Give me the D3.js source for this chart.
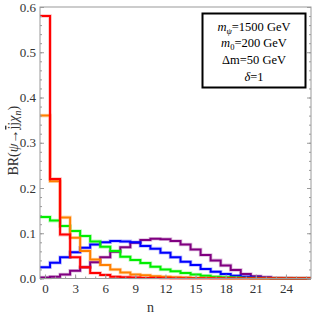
<!DOCTYPE html>
<html>
<head>
<meta charset="utf-8">
<script src="https://cdn.jsdelivr.net/npm/d3@7"></script>
<style>
  body { margin: 0; background: #fff; }
  svg { display: block; font-family: "Liberation Serif", "DejaVu Serif", serif; }
</style>
</head>
<body>
<div class="canvas"></div>
<script>
// values, one per n = 0..26
const nValues = d3.range(0, 27);
const red    = [0.58, 0.22, 0.097, 0.047, 0.025, 0.012, 0.008, 0.004, 0.003, 0.002, 0.001, 0.001, 0.0005, 0, 0, 0, 0, 0, 0, 0, 0, 0, 0, 0, 0, 0, 0];
const orange = [0.36, 0.215, 0.135, 0.09, 0.061, 0.042, 0.03, 0.02, 0.013, 0.009, 0.007, 0.005, 0.004, 0.003, 0.002, 0.001, 0.001, 0.0005, 0, 0, 0, 0, 0, 0, 0, 0, 0];
const green  = [0.136, 0.128, 0.116, 0.105, 0.094, 0.082, 0.07, 0.061, 0.048, 0.041, 0.034, 0.026, 0.02, 0.016, 0.012, 0.009, 0.006, 0.004, 0.003, 0.002, 0.001, 0.0005, 0, 0, 0, 0, 0];
const blue   = [0.025, 0.035, 0.047, 0.058, 0.068, 0.075, 0.08, 0.083, 0.082, 0.08, 0.072, 0.066, 0.057, 0.047, 0.037, 0.03, 0.021, 0.015, 0.01, 0.006, 0.004, 0.002, 0.001, 0, 0, 0, 0];
const purple = [0.002, 0.004, 0.009, 0.017, 0.025, 0.036, 0.047, 0.059, 0.069, 0.079, 0.085, 0.088, 0.087, 0.083, 0.075, 0.064, 0.052, 0.04, 0.029, 0.019, 0.01, 0.005, 0.003, 0.001, 0.0005, 0, 0];

const xTicks = [0, 3, 6, 9, 12, 15, 18, 21, 24];
const yTicks = [0.0, 0.1, 0.2, 0.3, 0.4, 0.5, 0.6];
const legendLines = ['mphi', 'm0', 'dm', 'delta'];

// drawing order: purple underneath, red on top
const series = [
    { values: purple, color: '#800080' },
    { values: blue, color: '#0000ff' },
    { values: green, color: '#00ee00' },
    { values: orange, color: '#ff8000' },
    { values: red, color: '#ff0000' }
];

const width = 312, height = 316;
const margin = { top: 7, right: 1, bottom: 37.5, left: 40 };
const graphWidth = width - margin.left - margin.right;
const graphHeight = height - margin.top - margin.bottom;

const svg = d3.select('.canvas')
    .append('svg')
    .attr('width', width)
    .attr('height', height);

const graph = svg.append('g')
    .attr('transform', `translate(${margin.left}, ${margin.top})`);

const x = d3.scaleLinear().domain([-0.5, 26.5]).range([0, graphWidth]);
const y = d3.scaleLinear().domain([0, 0.6]).range([graphHeight, 0]);

// step lines
const line = d3.line()
    .x(d => x(d[0]))
    .y(d => y(d[1]))
    .curve(d3.curveStepAfter);

graph.append('clipPath').attr('id', 'clip')
    .append('rect').attr('width', graphWidth).attr('height', graphHeight + 2).attr('y', -1);

const lines = graph.append('g').attr('clip-path', 'url(#clip)');
series.forEach(s => {
    const pts = s.values.map((v, i) => [nValues[i] - 0.5, v]);
    pts.push([nValues[nValues.length - 1] + 0.5, s.values[s.values.length - 1]]);
    // soft halo like the original antialiasing
    lines.append('path')
        .attr('d', line(pts))
        .attr('fill', 'none')
        .attr('stroke', s.color)
        .attr('stroke-opacity', 0.25)
        .attr('stroke-width', 3.6);
    lines.append('path')
        .attr('d', line(pts))
        .attr('fill', 'none')
        .attr('stroke', s.color)
        .attr('stroke-width', 2);
});

// frame
const frameColor = '#9a9a9a';
graph.append('rect')
    .attr('width', graphWidth)
    .attr('height', graphHeight)
    .attr('fill', 'none')
    .attr('stroke', frameColor)
    .attr('stroke-width', 1);

// axes with inward ticks
const xAxis = d3.axisBottom(x).tickValues(xTicks).tickSize(-4).tickPadding(5).tickFormat(d3.format('d'));
const xMinor = d3.axisBottom(x).tickValues(d3.range(0, 27)).tickSize(-2).tickFormat('');
const yAxis = d3.axisLeft(y).tickValues(yTicks).tickSize(-4).tickPadding(4).tickFormat(d3.format('.1f'));
const yMinor = d3.axisLeft(y).tickValues(d3.range(0, 0.6001, 0.02)).tickSize(-2).tickFormat('');
const yRight = d3.axisRight(y).tickValues(yTicks).tickSize(-4).tickFormat('');
const yRightMinor = d3.axisRight(y).tickValues(d3.range(0, 0.6001, 0.02)).tickSize(-2).tickFormat('');

const axisGroups = [
    graph.append('g').attr('transform', `translate(0, ${graphHeight})`).call(xMinor),
    graph.append('g').attr('transform', `translate(0, ${graphHeight})`).call(xAxis),
    graph.append('g').call(yMinor),
    graph.append('g').call(yAxis),
    graph.append('g').attr('transform', `translate(${graphWidth}, 0)`).call(yRightMinor),
    graph.append('g').attr('transform', `translate(${graphWidth}, 0)`).call(yRight)
];
axisGroups.forEach(g => {
    g.select('.domain').remove();
    g.selectAll('line').attr('stroke', frameColor);
    g.selectAll('text')
        .attr('fill', '#333')
        .style('font-family', '"Liberation Serif", serif')
        .style('font-size', '13px');
});

// axis labels
svg.append('text')
    .attr('x', margin.left + x(10.5))
    .attr('y', 312)
    .attr('text-anchor', 'middle')
    .attr('fill', '#333')
    .style('font-size', '14px')
    .text('n');

const yLabel = svg.append('text')
    .attr('transform', `translate(18, ${margin.top + graphHeight / 2 - 2}) rotate(-90)`)
    .attr('text-anchor', 'middle')
    .attr('fill', '#333')
    .style('font-size', '14px');
yLabel.append('tspan').text('BR(');
yLabel.append('tspan').style('font-style', 'italic').text('ψ');
yLabel.append('tspan').text('→');
yLabel.append('tspan').style('text-decoration', 'overline').text('j');
yLabel.append('tspan').text('j');
yLabel.append('tspan').style('font-style', 'italic').text('χ');
yLabel.append('tspan').style('font-style', 'italic').style('font-size', '10px').attr('dy', 3).text('n');
yLabel.append('tspan').attr('dy', -3).text(')');

// legend box
const legend = svg.append('g').attr('transform', 'translate(202.5, 13.5)');
legend.append('rect')
    .attr('width', 103)
    .attr('height', 74)
    .attr('fill', '#fff')
    .attr('stroke', '#000')
    .attr('stroke-width', 2);

const legendY = d3.scalePoint().domain(legendLines).range([17, 67]);
const lx = 51.5;
const fs = '12.5px';

const t1 = legend.append('text').attr('x', lx).attr('y', legendY('mphi')).attr('text-anchor', 'middle').style('font-size', fs);
t1.append('tspan').style('font-style', 'italic').text('m');
t1.append('tspan').style('font-style', 'italic').style('font-size', '8.5px').attr('dy', 3).text('ψ');
t1.append('tspan').attr('dy', -3).text('=1500 GeV');

const t2 = legend.append('text').attr('x', lx).attr('y', legendY('m0')).attr('text-anchor', 'middle').style('font-size', fs);
t2.append('tspan').style('font-style', 'italic').text('m');
t2.append('tspan').style('font-size', '8.5px').attr('dy', 3).text('0');
t2.append('tspan').attr('dy', -3).text('=200 GeV');

legend.append('text').attr('x', lx).attr('y', legendY('dm')).attr('text-anchor', 'middle').style('font-size', fs)
    .text('Δm=50 GeV');

const t4 = legend.append('text').attr('x', lx).attr('y', legendY('delta')).attr('text-anchor', 'middle').style('font-size', fs);
t4.append('tspan').style('font-style', 'italic').text('δ');
t4.append('tspan').text('=1');
</script>
</body>
</html>
